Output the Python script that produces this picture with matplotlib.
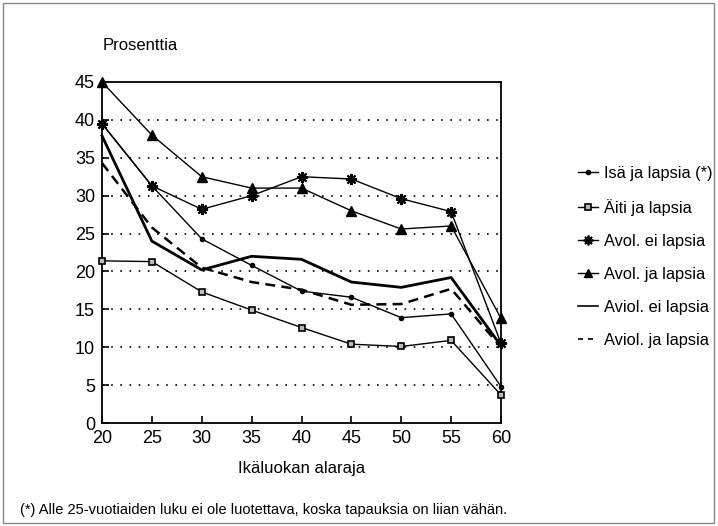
import matplotlib
matplotlib.use("Agg")
import matplotlib.pyplot as plt
from matplotlib.patches import Rectangle
from matplotlib.lines import Line2D

plt.rcParams['font.family'] = ['Liberation Sans', 'DejaVu Sans']

ages = [20, 25, 30, 35, 40, 45, 50, 55, 60]
isa = [39.5, 31.3, 24.3, 20.8, 17.4, 16.6, 13.9, 14.4, 4.8]
aiti = [21.4, 21.3, 17.3, 14.9, 12.6, 10.4, 10.1, 10.9, 3.7]
avol_ei = [39.5, 31.3, 28.2, 30.0, 32.5, 32.2, 29.6, 27.9, 10.5]
avol_ja = [45.0, 38.0, 32.5, 31.0, 31.0, 28.0, 25.6, 26.0, 13.8]
aviol_ei = [37.9, 24.0, 20.2, 22.0, 21.6, 18.6, 17.9, 19.2, 10.2]
aviol_ja = [34.3, 25.8, 20.5, 18.6, 17.6, 15.6, 15.7, 17.7, 10.0]

labels = ["Isä ja lapsia (*)", "Äiti ja lapsia", "Avol. ei lapsia",
          "Avol. ja lapsia", "Aviol. ei lapsia", "Aviol. ja lapsia"]
xticks = [20, 25, 30, 35, 40, 45, 50, 55, 60]
yticks = [0, 5, 10, 15, 20, 25, 30, 35, 40, 45]

W, H = 718, 526
fig = plt.figure(figsize=(W / 100, H / 100), dpi=100)
ax = fig.add_axes([102 / W, 1 - 423 / H, (501 - 102) / W, (423 - 82) / H])

for y in yticks[1:-1]:
    ax.axhline(y, color='black', linestyle=(0, (1, 4.5)), linewidth=1.2, zorder=1)

common = dict(color='black', zorder=3, clip_on=False)
ax.plot(ages, isa, lw=1.0, marker='o', ms=3, **common)
ax.plot(ages, aiti, lw=1.0, marker='s', ms=5, mfc='#bbbbbb', mec='black', mew=1.2, **common)
ax.plot(ages, avol_ei, lw=1.0, marker=(8, 2, 0), ms=8, mew=1.5, **common)
ax.plot(ages, avol_ja, lw=1.0, marker='^', ms=7, **common)
ax.plot(ages, aviol_ei, lw=2.0, **common)
ax.plot(ages, aviol_ja, lw=1.8, linestyle=(0, (4, 2.5)), **common)

ax.set_xlim(20, 60)
ax.set_ylim(0, 45)
ax.set_xticks(xticks)
ax.set_yticks(yticks)
ax.tick_params(direction='in', length=5, width=1.2, labelsize=13, pad=5, color='black')
for s in ax.spines.values():
    s.set_linewidth(1.3)

fig.text(103 / W, 1 - 45 / H, "Prosenttia", fontsize=12, ha='left', va='center')
fig.text((102 + 501) / 2 / W, 1 - 468 / H, "Ikäluokan alaraja", fontsize=12, ha='center', va='center')
fig.text(20 / W, 1 - 510 / H, "(*) Alle 25-vuotiaiden luku ei ole luotettava, koska tapauksia on liian vähän.",
         fontsize=10.5, ha='left', va='center')

leg_handles = [
    Line2D([], [], color='black', lw=1.0, marker='o', ms=3),
    Line2D([], [], color='black', lw=1.0, marker='s', ms=5, mfc='#bbbbbb', mec='black', mew=1.2),
    Line2D([], [], color='black', lw=1.0, marker=(8, 2, 0), ms=7, mew=1.3),
    Line2D([], [], color='black', lw=1.0, marker='^', ms=6),
    Line2D([], [], color='black', lw=1.2),
    Line2D([], [], color='black', lw=1.2, linestyle=(0, (3, 3))),
]
fig.legend(leg_handles, labels, loc='upper left', bbox_to_anchor=(578 / W, 1 - 166 / H),
           frameon=False, fontsize=11.8, handlelength=1.2, handletextpad=0.4, labelspacing=1.1,
           borderpad=0, borderaxespad=0)

fig.patches.append(Rectangle((3 / W, 3 / H), (714 - 3) / W, (523 - 3) / H, transform=fig.transFigure,
                             fill=False, edgecolor='#888888', linewidth=1.0))

fig.savefig("out.png", dpi=100)
